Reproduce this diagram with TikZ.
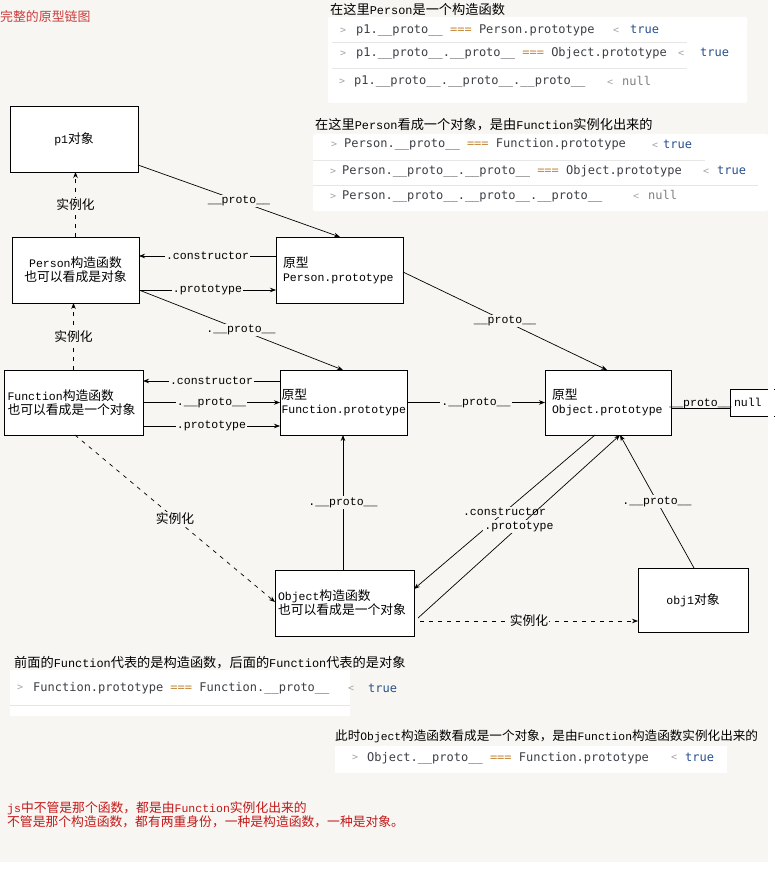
\documentclass[tikz,border=0pt]{standalone}
\usepackage{fontspec}
\setmainfont{Noto Sans CJK SC}
\newfontfamily\lat[Scale=0.9]{Liberation Mono}
\newfontfamily\code{DejaVu Sans Mono}
\usetikzlibrary{arrows.meta}

\definecolor{bg}{RGB}{247,246,242}
\definecolor{codetxt}{RGB}{60,64,70}
\definecolor{opcol}{RGB}{196,136,60}
\definecolor{truecol}{RGB}{40,80,140}
\definecolor{nullcol}{RGB}{128,128,128}
\definecolor{promptc}{RGB}{165,165,165}
\definecolor{sepc}{RGB}{230,230,230}
\definecolor{titlered}{RGB}{205,60,60}
\definecolor{notered}{RGB}{195,25,25}

\newcommand\nf{\fontsize{12.8}{14}\selectfont}
\newcommand\cf{\fontsize{13.2}{15}\selectfont}
\newcommand\kf{\fontsize{12}{14}\selectfont}
\newcommand\eqop{\textcolor{opcol}{===}}
\newcommand\dproto{\_\_proto\_\_}

\begin{document}
\begin{tikzpicture}[x=1pt, y=-1pt,
  boxnode/.style={draw=black, line width=0.8pt, fill=white, anchor=north west,
    inner ysep=0pt, outer sep=0pt, font=\nf},
  conn/.style={line width=0.7pt, -{Stealth[length=6pt,width=4.5pt]}},
  plainline/.style={line width=0.7pt},
  dsh/.style={dash pattern=on 4pt off 5pt},
  lab/.style={fill=bg, inner sep=1pt, font={\nf\lat}},
  zlab/.style={fill=bg, inner sep=1pt, font=\nf},
  captext/.style={anchor=west, inner sep=0pt, font=\cf},
  codeline/.style={anchor=west, inner sep=0pt, font=\code\kf, text=codetxt,
    text height=8.5pt, text depth=2.5pt},
  prompttext/.style={anchor=west, inner sep=0pt, font=\code\fontsize{10}{12}\selectfont, text=promptc},
  tval/.style={codeline, text=truecol},
  nval/.style={codeline, text=nullcol},
  sepline/.style={draw=sepc, line width=0.6pt},
  notetext/.style={anchor=west, inner sep=0pt, font=\nf, text=notered}]

\useasboundingbox (0,0) rectangle (774,869);
\fill[bg] (0,0) rectangle (774,869);

% title
\node[anchor=west, inner sep=0pt, text=titlered, font=\fontsize{12.9}{14}\selectfont] (title) at (0,17) {完整的原型链图};

% console block: Person as a constructor
\node[captext] (h1) at (330,9) {在这里{\lat Person}是一个构造函数};
\fill[white, rounded corners=2pt] (328,17) rectangle (747,103);
\draw[sepline] (332,42) -- (687,42);
\draw[sepline] (332,68) -- (687,68);
\node[prompttext] (q1a) at (340,31) {>};
\node[codeline] (c1a) at (356,31) {p1.\dproto{} \eqop{} Person.prototype};
\node[prompttext] (r1a) at (613,31) {<};
\node[tval] (v1a) at (630,31) {true};
\node[prompttext] (q1b) at (340,54) {>};
\node[codeline] (c1b) at (356,54) {p1.\dproto.\dproto{} \eqop{} Object.prototype};
\node[prompttext] (r1b) at (678,54) {<};
\node[tval] (v1b) at (700,54) {true};
\node[prompttext] (q1c) at (339,82) {>};
\node[codeline] (c1c) at (354,82) {p1.\dproto.\dproto.\dproto};
\node[prompttext] (r1c) at (607,83) {<};
\node[nval] (v1c) at (622,83) {null};

% console block: Person as an object
\node[captext] (h2) at (315,125) {在这里{\lat Person}看成一个对象，是由{\lat Function}实例化出来的};
\fill[white, rounded corners=2pt] (313,134) rectangle (768,211);
\draw[sepline] (313,160) -- (705,160);
\draw[sepline] (313,185) -- (758,185);
\node[prompttext] (q2a) at (331,145) {>};
\node[codeline] (c2a) at (344,145) {Person.\dproto{} \eqop{} Function.prototype};
\node[prompttext] (r2a) at (652,146) {<};
\node[tval] (v2a) at (663,146) {true};
\node[prompttext] (q2b) at (330,172) {>};
\node[codeline] (c2b) at (342,172) {Person.\dproto.\dproto{} \eqop{} Object.prototype};
\node[prompttext] (r2b) at (703,172) {<};
\node[tval] (v2b) at (717,172) {true};
\node[prompttext] (q2c) at (330,197) {>};
\node[codeline] (c2c) at (342,197) {Person.\dproto.\dproto.\dproto};
\node[prompttext] (r2c) at (633,197) {<};
\node[nval] (v2c) at (648,197) {null};

% boxes
\node[boxnode, minimum width=128pt, minimum height=66pt, align=center] (p1) at (10,106) {{\lat p1}对象};
\node[boxnode, minimum width=127pt, minimum height=66pt, align=center] (per) at (12,237)
  {{\lat Person}构造函数\\也可以看成是对象};
\node[boxnode, text width=113pt, inner xsep=7pt, minimum height=66pt, align=left] (pp) at (276,237)
  {原型\\{\lat Person.prototype}};
\node[boxnode, text width=132pt, inner xsep=3.5pt, minimum height=65pt, align=left] (fn) at (4,370)
  {{\lat Function}构造函数\\也可以看成是一个对象};
\node[boxnode, text width=124pt, inner xsep=1.5pt, minimum height=65pt, align=left] (fp) at (280,370)
  {原型\\{\lat Function.prototype}};
\node[boxnode, text width=112pt, inner xsep=7pt, minimum height=65pt, align=left] (op) at (545,370)
  {原型\\{\lat Object.prototype}};
\node[boxnode, text width=37pt, inner xsep=4pt, minimum height=27pt, align=left] (nul) at (730,389)
  {{\lat null}};
\node[boxnode, text width=133pt, inner xsep=3pt, minimum height=66pt, align=left] (oc) at (275,570)
  {{\lat Object}构造函数\\也可以看成是一个对象};
\node[boxnode, minimum width=110pt, minimum height=64pt, align=center] (o1) at (638,568)
  {{\lat obj1}对象};

% connector end points on the box borders
\coordinate (p1r) at ([yshift=-26pt]p1.east);
\coordinate (pptop) at ([xshift=64pt]pp.north west);
\coordinate (ppc) at ([yshift=14pt]pp.west);
\coordinate (perp) at ([yshift=-20pt]per.east);
\coordinate (fptop) at ([xshift=63pt]fp.north west);
\coordinate (fpc) at ([yshift=21.5pt]fp.west);
\coordinate (fnp) at ([yshift=-23.5pt]fn.east);
\coordinate (ppr) at ([yshift=-2pt]pp.east);
\coordinate (optop) at ([xshift=62pt]op.north west);
\coordinate (opr) at ([yshift=-5.5pt]op.east);
\coordinate (fpbot) at ([xshift=63pt]fp.south west);
\coordinate (fnbot) at ([xshift=71pt]fn.south west);
\coordinate (ocw) at ([yshift=1pt]oc.west);
\coordinate (opbl) at ([xshift=50pt]op.south west);
\coordinate (oce1) at ([yshift=14pt]oc.east);
\coordinate (oce2) at ([xshift=4pt,yshift=-15pt]oc.east);
\coordinate (opbm) at ([xshift=75pt]op.south west);
\coordinate (o1top) at ([xshift=56pt]o1.north west);
\coordinate (oce3) at ([xshift=6pt,yshift=-18pt]oc.east);

% p1 and Person
\draw[conn] (p1r) -- node[lab] {\dproto} (pptop);
\draw[conn, dsh] (per.north) -- node[zlab] {实例化} (per.north |- p1.south);
\draw[conn] (ppc) -- node[lab] {.constructor} (ppc -| per.east);
\draw[conn] (perp) -- node[lab] {.prototype} (perp -| pp.west);
\draw[conn] (perp) -- node[lab] {.\dproto} (fptop);

% Function
\draw[conn, dsh] (fn.north) -- node[zlab] {实例化} (fn.north |- per.south);
\draw[conn] (fpc) -- node[lab] {.constructor} (fpc -| fn.east);
\draw[conn] (fn.east) -- node[lab] {.\dproto} (fp.west);
\draw[conn] (fnp) -- node[lab] {.prototype} (fnp -| fp.west);

% Object.prototype chain
\draw[conn] (ppr) -- node[lab] {\dproto} (optop);
\draw[conn] (fp.east) -- node[lab] {.\dproto} (op.west);
\draw[plainline] (opr) -- (opr -| nul.west);
\node[inner sep=0pt, font={\nf\lat}] (nl) at (700.5,404) {\dproto};

% Object constructor
\draw[conn] (fpbot |- oc.north) -- node[lab] {.\dproto} (fpbot);
\draw[conn, dsh] (fnbot) -- node[zlab] {实例化} (ocw);
\draw[conn] (opbl) -- node[lab] {.constructor} (oce1);
\draw[conn] (oce2) -- node[lab] {.prototype} (opbm);
\draw[conn] (o1top) -- node[lab] {.\dproto} (opbm);
\draw[conn, dsh] (oce3) -- node[zlab] {实例化} (oce3 -| o1.west);

% console block: Function.prototype vs Function.__proto__
\node[captext] (h3) at (14,663) {前面的{\lat Function}代表的是构造函数，后面的{\lat Function}代表的是对象};
\fill[white] (10,670) rectangle (350,716);
\draw[sepline] (10,705) -- (350,705);
\node[prompttext] (q3) at (17,688) {>};
\node[codeline] (c3) at (33,688) {Function.prototype \eqop{} Function.\dproto};
\node[prompttext] (r3) at (348,689) {<};
\node[tval] (v3) at (368,689) {true};

% console block: Object as an object
\node[captext, font=\fontsize{12.6}{15}\selectfont] (h4) at (335,736) {此时{\lat Object}构造函数看成是一个对象，是由{\lat Function}构造函数实例化出来的};
\fill[white] (335,746) rectangle (727,773);
\node[prompttext] (q4) at (352,758) {>};
\node[codeline] (c4) at (367,758) {Object.\dproto{} \eqop{} Function.prototype};
\node[prompttext] (r4) at (671,758) {<};
\node[tval] (v4) at (685,758) {true};

% notes
\node[notetext] (n1) at (7,808) {{\lat js}中不管是那个函数，都是由{\lat Function}实例化出来的};
\node[notetext] (n2) at (7,822) {不管是那个构造函数，都有两重身份，一种是构造函数，一种是对象。};

% page margins
\fill[white] (768,0) rectangle (774,869);
\fill[white] (0,862) rectangle (774,869);
\end{tikzpicture}
\end{document}
